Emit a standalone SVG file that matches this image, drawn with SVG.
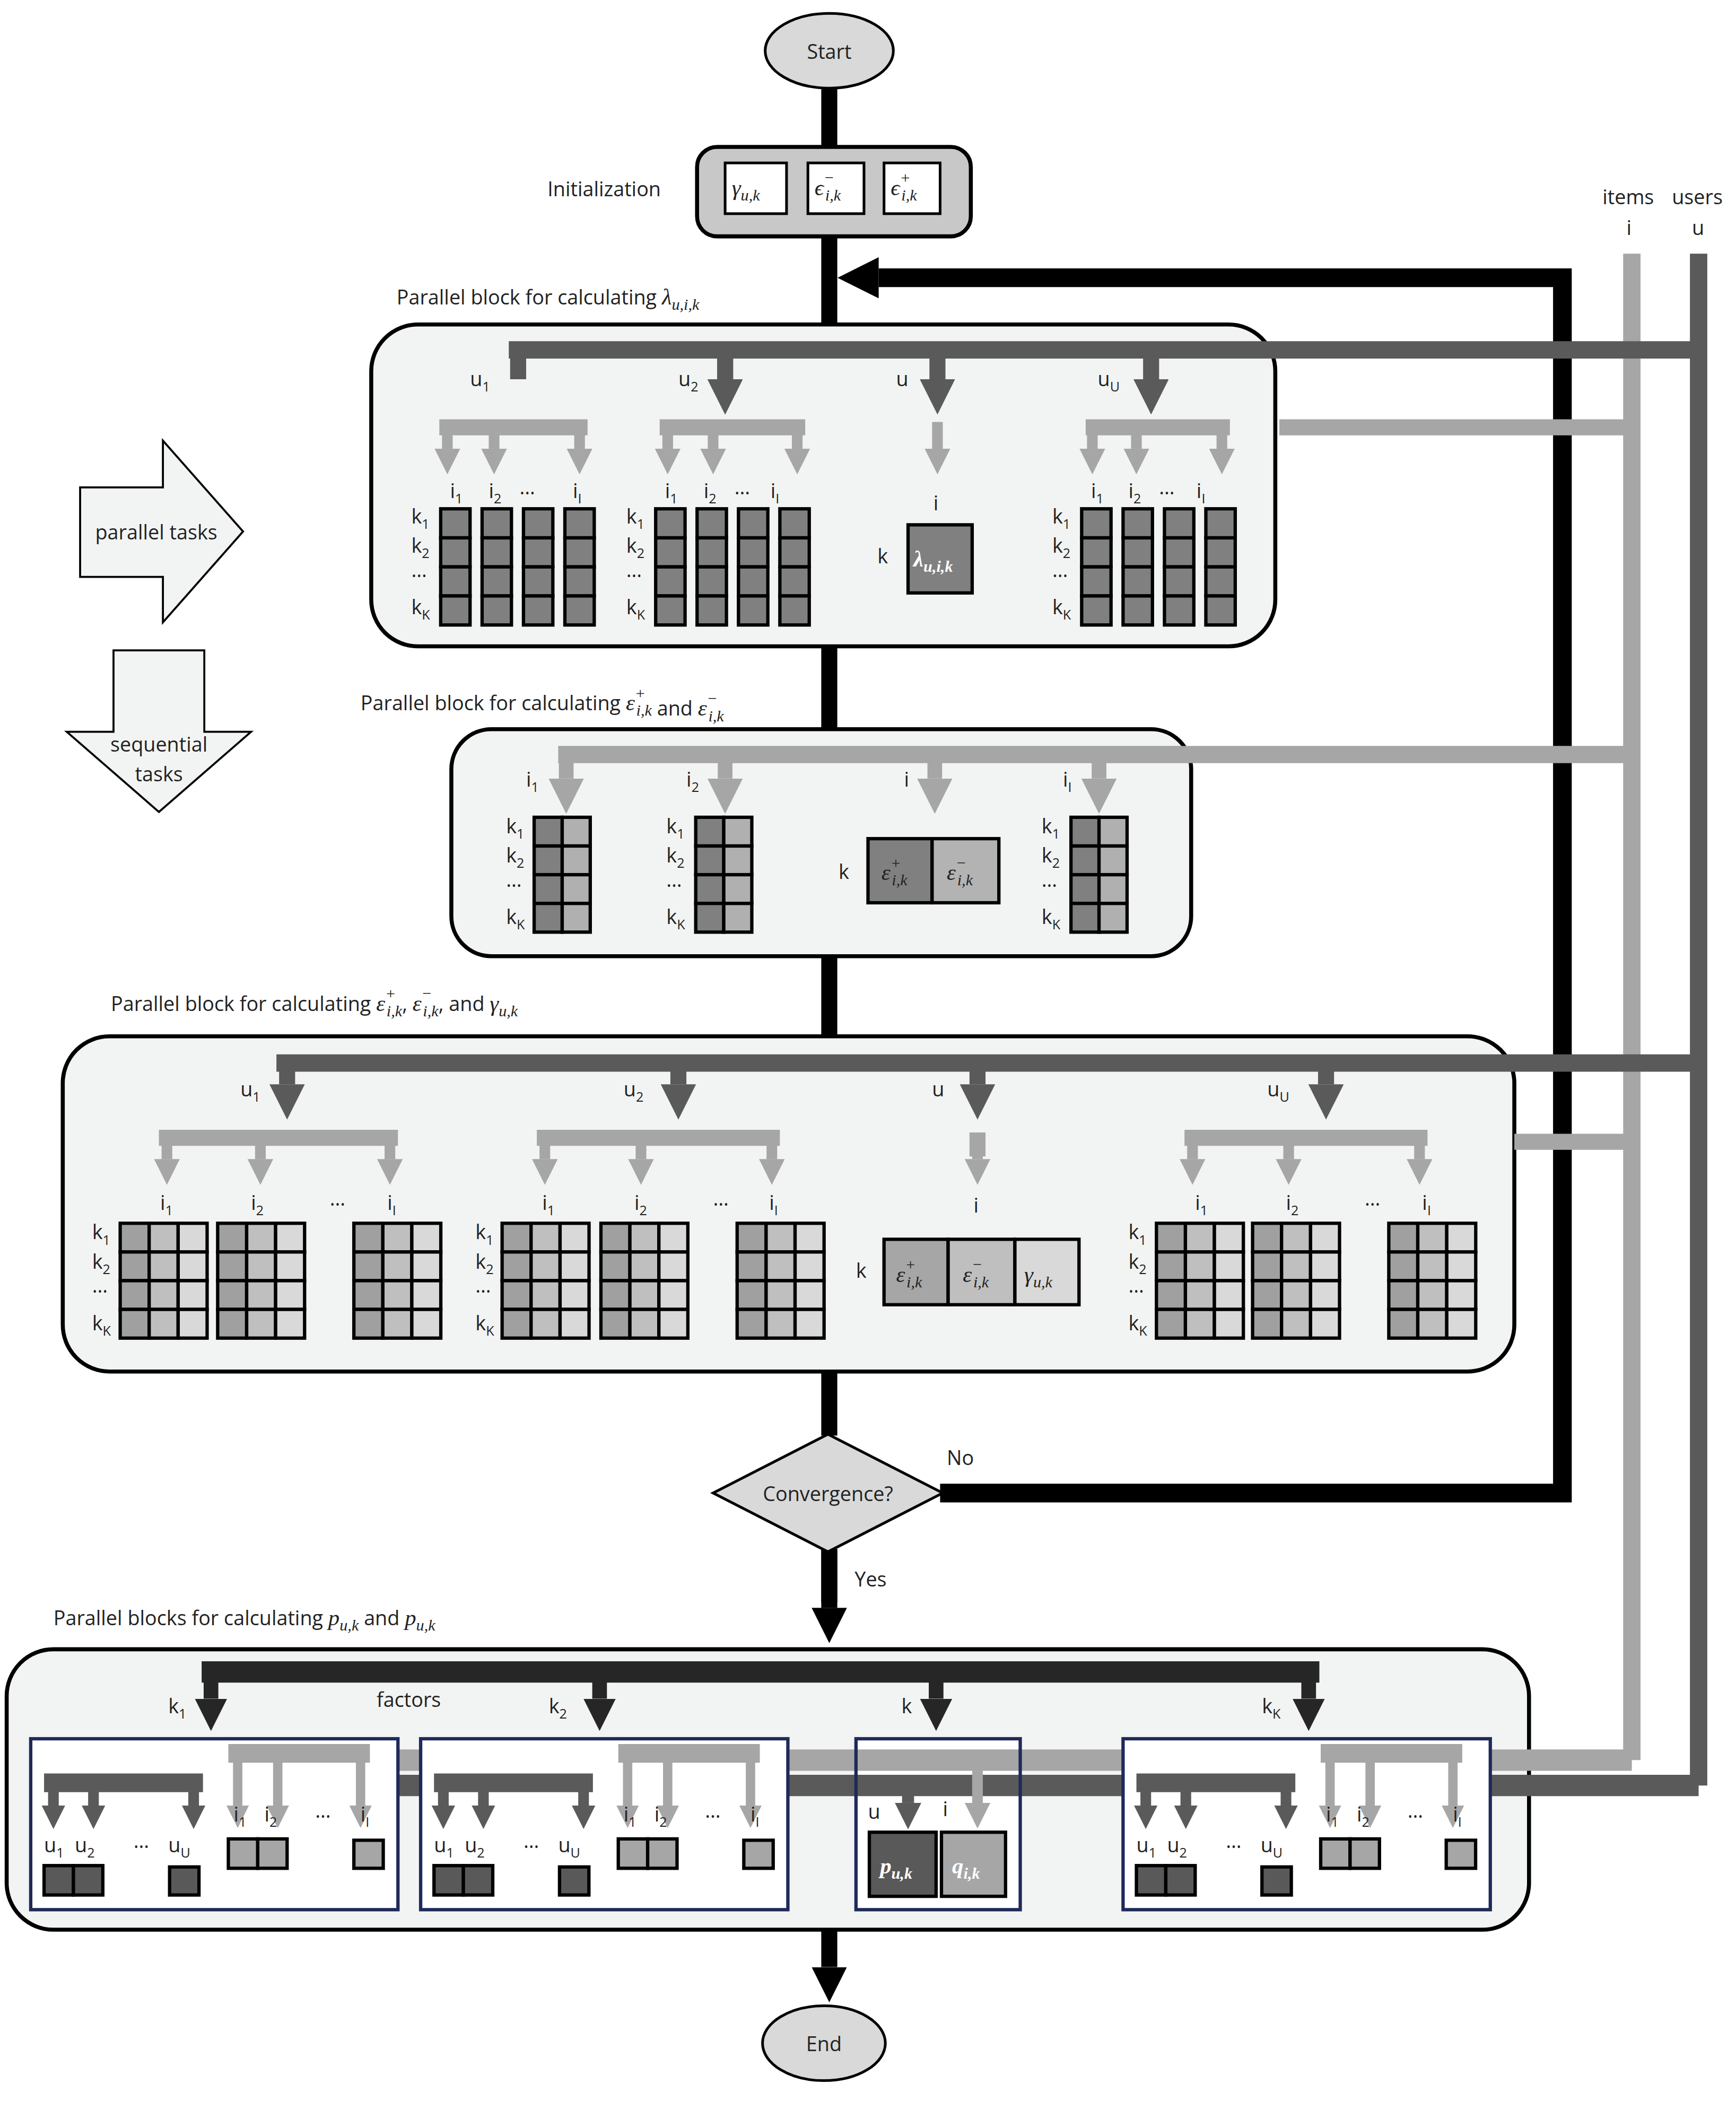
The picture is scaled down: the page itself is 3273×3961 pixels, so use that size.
<svg xmlns="http://www.w3.org/2000/svg" xmlns:xlink="http://www.w3.org/1999/xlink" width="3273" height="3961" viewBox="0 0 3273 3961">
<style>
text{font-family:"Open Sans","Noto Sans",sans-serif;font-size:15px;fill:#222}
.m{font-family:"Liberation Serif",serif;font-style:italic;font-size:17px}
.mw{font-family:"Liberation Serif",serif;font-style:italic;font-weight:bold;font-size:17px;fill:#fff}
.blk{fill:#f2f4f3;stroke:#000;stroke-width:3}
.bk{stroke:#000;fill:none}
.dk{stroke:#5a5a5a;fill:none}
.lt{stroke:#a6a6a6;fill:none}
.c{stroke:#000;stroke-width:2.5}
.sub{font-size:10px}
</style>
<defs>
<marker id="ab" viewBox="0 0 10 10" refX="0" refY="5" markerWidth="2.2" markerHeight="2.2" orient="auto"><path d="M0,0L10,5L0,10z" fill="#000"/></marker>
<marker id="ad" viewBox="0 0 10 10" refX="0" refY="5" markerWidth="2.2" markerHeight="2.2" orient="auto"><path d="M0,0L10,5L0,10z" fill="#5a5a5a"/></marker>
<marker id="al" viewBox="0 0 10 10" refX="0" refY="5" markerWidth="2.4" markerHeight="2.4" orient="auto"><path d="M0,0L10,5L0,10z" fill="#a6a6a6"/></marker>
<marker id="ak" viewBox="0 0 10 10" refX="0" refY="5" markerWidth="2.2" markerHeight="2.2" orient="auto"><path d="M0,0L10,5L0,10z" fill="#262626"/></marker>
<g id="col1" class="c" fill="#808080"><rect x="0" y="0" width="22" height="21.75"/><rect x="0" y="21.75" width="22" height="21.75"/><rect x="0" y="43.5" width="22" height="21.75"/><rect x="0" y="65.25" width="22" height="21.75"/></g>
<g id="m1"><use xlink:href="#col1"/><use xlink:href="#col1" x="31"/><use xlink:href="#col1" x="62"/><use xlink:href="#col1" x="93"/></g>
<g id="m2" class="c"><rect x="0" y="0" width="21" height="21.5" fill="#808080"/><rect x="0" y="21.5" width="21" height="21.5" fill="#808080"/><rect x="0" y="43" width="21" height="21.5" fill="#808080"/><rect x="0" y="64.5" width="21" height="21.5" fill="#808080"/><rect x="21" y="0" width="21" height="21.5" fill="#b0b0b0"/><rect x="21" y="21.5" width="21" height="21.5" fill="#b0b0b0"/><rect x="21" y="43" width="21" height="21.5" fill="#b0b0b0"/><rect x="21" y="64.5" width="21" height="21.5" fill="#b0b0b0"/></g>
<g id="r3" class="c"><rect x="0" y="0" width="21.7" height="21.5" fill="#a0a0a0"/><rect x="21.7" y="0" width="21.7" height="21.5" fill="#bfbfbf"/><rect x="43.4" y="0" width="21.7" height="21.5" fill="#d9d9d9"/></g>
<g id="m3"><use xlink:href="#r3"/><use xlink:href="#r3" y="21.5"/><use xlink:href="#r3" y="43"/><use xlink:href="#r3" y="64.5"/></g>
<g id="kl1"><text x="0" y="0">k<tspan class="sub" dy="4">1</tspan></text><text x="0" y="22">k<tspan class="sub" dy="4">2</tspan></text><text x="0" y="40">…</text><text x="0" y="68">k<tspan class="sub" dy="4">K</tspan></text></g>
<g id="sub4">
<path class="dk" stroke-width="14" d="M33,1335H152"/>
<path class="dk" stroke-width="8" marker-end="url(#ad)" d="M40,1335V1352"/>
<path class="dk" stroke-width="8" marker-end="url(#ad)" d="M70,1335V1352"/>
<path class="dk" stroke-width="8" marker-end="url(#ad)" d="M145,1335V1352"/>
<path class="lt" stroke-width="14" d="M171,1313H277"/>
<path class="lt" stroke-width="7" marker-end="url(#al)" d="M178,1313V1352"/>
<path class="lt" stroke-width="7" marker-end="url(#al)" d="M208,1313V1352"/>
<path class="lt" stroke-width="7" marker-end="url(#al)" d="M270,1313V1352"/>
<text x="33" y="1387">u<tspan class="sub" dy="4">1</tspan></text><text x="56" y="1387">u<tspan class="sub" dy="4">2</tspan></text><text x="100" y="1384">…</text><text x="126" y="1387">u<tspan class="sub" dy="4">U</tspan></text>
<text x="175" y="1364">i<tspan class="sub" dy="4">1</tspan></text><text x="198" y="1364">i<tspan class="sub" dy="4">2</tspan></text><text x="236" y="1361">…</text><text x="270" y="1364">i<tspan class="sub" dy="4">I</tspan></text>
<g class="c" fill="#595959"><rect x="33" y="1397" width="22" height="22"/><rect x="55" y="1397" width="22" height="22"/><rect x="127" y="1398" width="22" height="21"/></g>
<g class="c" fill="#a6a6a6"><rect x="171" y="1377" width="22" height="22"/><rect x="193" y="1377" width="22" height="22"/><rect x="265" y="1378" width="22" height="21"/></g>
</g>
</defs>
<g transform="scale(2.5177)">
<g id="connectors">
<path class="bk" stroke-width="12" d="M621,66V1075M621,1160V1200"/>
<path class="bk" stroke-width="12" marker-end="url(#ab)" d="M621,1160V1204"/>
<path class="bk" stroke-width="12" marker-end="url(#ab)" d="M621,1445V1473"/>
<path class="bk" stroke-width="14" marker-end="url(#ab)" d="M704,1118H1170V208H658"/>
<path class="lt" stroke-width="13" d="M1222,190V1318"/>
<path class="dk" stroke-width="13" d="M1272,190V1337"/>
</g>
<g id="start"><ellipse cx="621" cy="38" rx="48" ry="28" fill="#d9d9d9" stroke="#000" stroke-width="2"/><text x="621" y="44" text-anchor="middle" font-size="16">Start</text></g>
<g id="init">
<text x="410" y="147" font-size="16">Initialization</text>
<rect x="522" y="110" width="205" height="67" rx="15" fill="#c8c8c8" stroke="#000" stroke-width="3"/>
<g fill="#fff" stroke="#000" stroke-width="2"><rect x="543" y="122" width="46" height="38"/><rect x="605" y="122" width="42" height="38"/><rect x="662" y="122" width="42" height="38"/></g>
<text class="m" x="548" y="146">γ<tspan font-size="12" dy="4">u,k</tspan></text>
<text class="m" x="610" y="146">ϵ<tspan font-size="12" dy="-9">−</tspan><tspan font-size="12" dx="-7" dy="13">i,k</tspan></text>
<text class="m" x="667" y="146">ϵ<tspan font-size="12" dy="-9">+</tspan><tspan font-size="12" dx="-7" dy="13">i,k</tspan></text>
</g>
<g id="labels-iu"><text x="1200" y="153">items</text><text x="1218" y="176">i</text><text x="1252" y="153">users</text><text x="1267" y="176">u</text></g>
<g id="parallel-tasks"><path d="M60,365H122V330L182,398L122,466V432H60z" fill="#f2f4f3" stroke="#000" stroke-width="1.5"/><text x="117" y="404" text-anchor="middle">parallel tasks</text></g>
<g id="sequential-tasks"><path d="M85,487H153V548H188L119,608L50,548H85z" fill="#f2f4f3" stroke="#000" stroke-width="1.5"/><text x="119" y="563" text-anchor="middle">sequential</text><text x="119" y="585" text-anchor="middle">tasks</text></g>

<g id="block1">
<text x="297" y="228" font-size="16">Parallel block for calculating <tspan class="m">λ<tspan font-size="12" dy="4">u,i,k</tspan></tspan></text>
<rect class="blk" x="278" y="243" width="677" height="241" rx="35"/>
<path class="dk" stroke-width="13" d="M381,262H1272"/>
<path class="dk" stroke-width="12" marker-end="url(#ad)" d="M388,262V284M543,262V284"/>
<path class="dk" stroke-width="12" marker-end="url(#ad)" d="M543,262V284"/>
<path class="dk" stroke-width="12" marker-end="url(#ad)" d="M702,262V284"/>
<path class="dk" stroke-width="12" marker-end="url(#ad)" d="M862,262V284"/>
<text x="352" y="289">u<tspan class="sub" dy="4">1</tspan></text><text x="508" y="289">u<tspan class="sub" dy="4">2</tspan></text><text x="671" y="289">u</text><text x="822" y="289">u<tspan class="sub" dy="4">U</tspan></text>
<path class="lt" stroke-width="12" d="M958,320H1222"/>
<g class="lt" stroke-width="12"><path d="M329,320H440"/><path d="M494,320H603"/><path d="M813,320H921"/></g>
<g class="lt" stroke-width="8" marker-end="url(#al)">
<path d="M335,320V336"/><path d="M370,320V336"/><path d="M434,320V336"/>
<path d="M500,320V336"/><path d="M534,320V336"/><path d="M597,320V336"/>
<path d="M702,316V336"/>
<path d="M818,320V336"/><path d="M851,320V336"/><path d="M915,320V336"/>
</g>
<text x="337" y="373">i<tspan class="sub" dy="4">1</tspan></text><text x="366" y="373">i<tspan class="sub" dy="4">2</tspan></text><text x="389" y="370">…</text><text x="429" y="373">i<tspan class="sub" dy="4">I</tspan></text>
<text x="498" y="373">i<tspan class="sub" dy="4">1</tspan></text><text x="527" y="373">i<tspan class="sub" dy="4">2</tspan></text><text x="550" y="370">…</text><text x="577" y="373">i<tspan class="sub" dy="4">I</tspan></text>
<text x="817" y="373">i<tspan class="sub" dy="4">1</tspan></text><text x="845" y="373">i<tspan class="sub" dy="4">2</tspan></text><text x="868" y="370">…</text><text x="896" y="373">i<tspan class="sub" dy="4">I</tspan></text>
<use xlink:href="#m1" x="330" y="381"/><use xlink:href="#m1" x="491" y="381"/><use xlink:href="#m1" x="810" y="381"/>
<use xlink:href="#kl1" x="308" y="392"/><use xlink:href="#kl1" x="469" y="392"/><use xlink:href="#kl1" x="788" y="392"/>
<text x="699" y="382">i</text><text x="657" y="422">k</text>
<rect x="680" y="393" width="48" height="51" fill="#808080" class="c"/>
<text class="mw" x="684" y="424">λ<tspan font-size="12" dy="4">u,i,k</tspan></text>
</g>

<g id="block2">
<text x="270" y="532" font-size="16">Parallel block for calculating <tspan class="m">ε<tspan font-size="12" dy="-9">+</tspan><tspan font-size="12" dx="-7" dy="13">i,k</tspan></tspan> and <tspan class="m">ε<tspan font-size="12" dy="-9">−</tspan><tspan font-size="12" dx="-7" dy="13">i,k</tspan></tspan></text>
<rect class="blk" x="338" y="546" width="554" height="170" rx="30"/>
<path class="lt" stroke-width="13" d="M418,565H1222"/>
<g class="lt" stroke-width="11" marker-end="url(#al)"><path d="M424,565V583"/><path d="M543,565V583"/><path d="M700,565V583"/><path d="M823,565V583"/></g>
<text x="394" y="589">i<tspan class="sub" dy="4">1</tspan></text><text x="514" y="589">i<tspan class="sub" dy="4">2</tspan></text><text x="677" y="589">i</text><text x="796" y="589">i<tspan class="sub" dy="4">I</tspan></text>
<use xlink:href="#m2" x="400" y="612"/><use xlink:href="#m2" x="521" y="612"/><use xlink:href="#m2" x="802" y="612"/>
<use xlink:href="#kl1" x="379" y="624"/><use xlink:href="#kl1" x="499" y="624"/><use xlink:href="#kl1" x="780" y="624"/>
<text x="628" y="658">k</text>
<rect x="650" y="628" width="48" height="48" fill="#808080" class="c"/><rect x="698" y="628" width="50" height="48" fill="#b3b3b3" class="c"/>
<text class="m" x="660" y="659" fill="#fff">ε<tspan font-size="12" dy="-9">+</tspan><tspan font-size="12" dx="-7" dy="13">i,k</tspan></text>
<text class="m" x="709" y="659" fill="#fff">ε<tspan font-size="12" dy="-9">−</tspan><tspan font-size="12" dx="-7" dy="13">i,k</tspan></text>
</g>

<g id="block3">
<text x="83" y="757" font-size="16">Parallel block for calculating <tspan class="m">ε<tspan font-size="12" dy="-9">+</tspan><tspan font-size="12" dx="-7" dy="13">i,k</tspan></tspan><tspan dy="-4">, </tspan><tspan class="m">ε<tspan font-size="12" dy="-9">−</tspan><tspan font-size="12" dx="-7" dy="13">i,k</tspan></tspan><tspan dy="-4">, and </tspan><tspan class="m">γ<tspan font-size="12" dy="4">u,k</tspan></tspan></text>
<rect class="blk" x="47" y="776" width="1087" height="251" rx="35"/>
<path class="dk" stroke-width="13" d="M207,796H1272"/>
<g class="dk" stroke-width="12" marker-end="url(#ad)"><path d="M215,796V812"/><path d="M508,796V812"/><path d="M732,796V812"/><path d="M993,796V812"/></g>
<text x="180" y="821">u<tspan class="sub" dy="4">1</tspan></text><text x="467" y="821">u<tspan class="sub" dy="4">2</tspan></text><text x="698" y="821">u</text><text x="949" y="821">u<tspan class="sub" dy="4">U</tspan></text>
<path class="lt" stroke-width="12" d="M1134,855H1222"/>
<g class="lt" stroke-width="12"><path d="M119,852H298"/><path d="M402,852H584"/><path d="M887,852H1069"/><path d="M732,848V866"/></g>
<g class="lt" stroke-width="8" marker-end="url(#al)">
<path d="M125,852V868"/><path d="M195,852V868"/><path d="M292,852V868"/>
<path d="M408,852V868"/><path d="M480,852V868"/><path d="M578,852V868"/>
<path d="M732,860V868"/>
<path d="M893,852V868"/><path d="M965,852V868"/><path d="M1063,852V868"/>
</g>
<text x="120" y="906">i<tspan class="sub" dy="4">1</tspan></text><text x="188" y="906">i<tspan class="sub" dy="4">2</tspan></text><text x="247" y="903">…</text><text x="290" y="906">i<tspan class="sub" dy="4">I</tspan></text>
<text x="406" y="906">i<tspan class="sub" dy="4">1</tspan></text><text x="475" y="906">i<tspan class="sub" dy="4">2</tspan></text><text x="534" y="903">…</text><text x="576" y="906">i<tspan class="sub" dy="4">I</tspan></text>
<text x="895" y="906">i<tspan class="sub" dy="4">1</tspan></text><text x="963" y="906">i<tspan class="sub" dy="4">2</tspan></text><text x="1022" y="903">…</text><text x="1065" y="906">i<tspan class="sub" dy="4">I</tspan></text>
<text x="729" y="908">i</text>
<use xlink:href="#m3" x="90" y="916"/><use xlink:href="#m3" x="163" y="916"/><use xlink:href="#m3" x="265" y="916"/>
<use xlink:href="#m3" x="376" y="916"/><use xlink:href="#m3" x="450" y="916"/><use xlink:href="#m3" x="552" y="916"/>
<use xlink:href="#m3" x="866" y="916"/><use xlink:href="#m3" x="938" y="916"/><use xlink:href="#m3" x="1040" y="916"/>
<use xlink:href="#kl1" x="69" y="928"/><use xlink:href="#kl1" x="356" y="928"/><use xlink:href="#kl1" x="845" y="928"/>
<text x="641" y="957">k</text>
<rect x="662" y="928" width="48" height="49" fill="#a6a6a6" class="c"/><rect x="710" y="928" width="50" height="49" fill="#bfbfbf" class="c"/><rect x="760" y="928" width="48" height="49" fill="#d9d9d9" class="c"/>
<text class="m" x="671" y="960">ε<tspan font-size="12" dy="-9">+</tspan><tspan font-size="12" dx="-7" dy="13">i,k</tspan></text>
<text class="m" x="721" y="960">ε<tspan font-size="12" dy="-9">−</tspan><tspan font-size="12" dx="-7" dy="13">i,k</tspan></text>
<text class="m" x="767" y="960">γ<tspan font-size="12" dy="4">u,k</tspan></text>
</g>

<g id="convergence">
<path d="M620,1074L706,1118L620,1162L534,1118z" fill="#d9d9d9" stroke="#000" stroke-width="2"/>
<text x="620" y="1124" text-anchor="middle" font-size="16">Convergence?</text>
<text x="709" y="1097" font-size="16">No</text><text x="640" y="1188" font-size="16">Yes</text>
</g>

<g id="block4">
<text x="40" y="1217" font-size="16">Parallel blocks for calculating <tspan class="m">p<tspan font-size="12" dy="4">u,k</tspan></tspan><tspan dy="-4"> and </tspan><tspan class="m">p<tspan font-size="12" dy="4">u,k</tspan></tspan></text>
<rect class="blk" x="5" y="1235" width="1140" height="210" rx="35"/>
<path stroke="#262626" stroke-width="16" fill="none" d="M151,1252H988"/>
<g stroke="#262626" stroke-width="11" fill="none" marker-end="url(#ak)"><path d="M158,1252V1272"/><path d="M449,1252V1272"/><path d="M701,1252V1272"/><path d="M980,1252V1272"/></g>
<text x="126" y="1283">k<tspan class="sub" dy="4">1</tspan></text><text x="282" y="1278">factors</text><text x="411" y="1283">k<tspan class="sub" dy="4">2</tspan></text><text x="675" y="1283">k</text><text x="945" y="1283">k<tspan class="sub" dy="4">K</tspan></text>
<rect x="641" y="1302" width="123" height="128" fill="#fff"/>
<path class="lt" stroke-width="16" d="M298,1318H1222"/>
<path class="dk" stroke-width="16" d="M298,1337H1272"/>
<rect x="641" y="1302" width="123" height="128" fill="none" stroke="#1f2a5a" stroke-width="2.5"/>
<g fill="#fff" stroke="#1f2a5a" stroke-width="2.5"><rect x="23" y="1302" width="275" height="128"/><rect x="315" y="1302" width="275" height="128"/><rect x="841" y="1302" width="275" height="128"/></g>
<use xlink:href="#sub4"/><use xlink:href="#sub4" x="292"/><use xlink:href="#sub4" x="818"/>
<path class="dk" stroke-width="9" marker-end="url(#ad)" d="M680,1342V1350"/>
<path class="lt" stroke-width="8" marker-end="url(#al)" d="M732,1318V1350"/>
<text x="650" y="1362">u</text><text x="706" y="1360">i</text>
<rect x="651" y="1372" width="50" height="48" fill="#595959" class="c"/><rect x="705" y="1372" width="48" height="48" fill="#a6a6a6" class="c"/>
<text class="mw" x="659" y="1403">p<tspan font-size="12" dy="4">u,k</tspan></text>
<text class="mw" x="713" y="1403">q<tspan font-size="12" dy="4">i,k</tspan></text>
</g>
<g id="end"><ellipse cx="617" cy="1530" rx="46" ry="28" fill="#d9d9d9" stroke="#000" stroke-width="2"/><text x="617" y="1536" text-anchor="middle" font-size="16">End</text></g>
</g>
</svg>
